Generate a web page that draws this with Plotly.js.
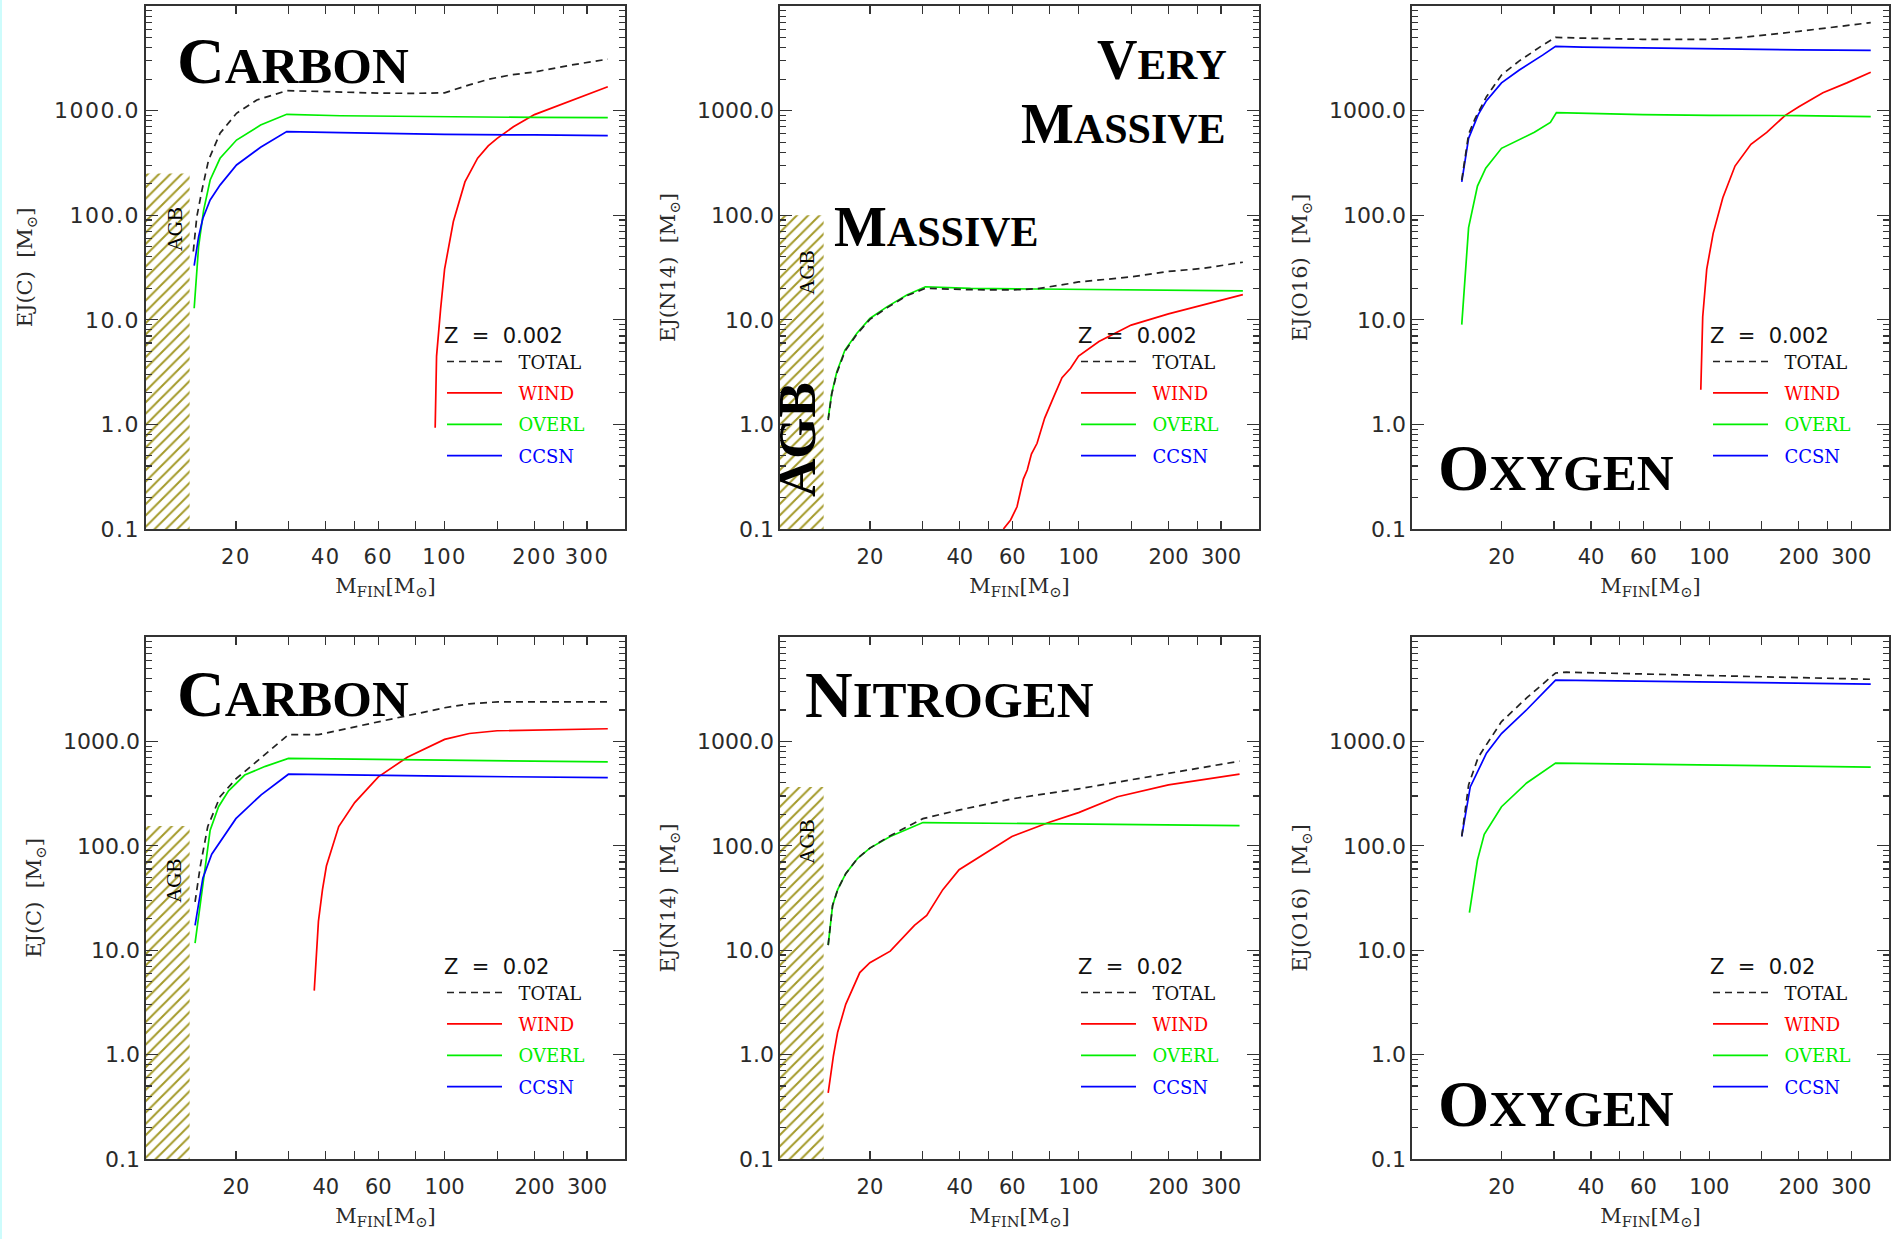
<!DOCTYPE html>
<html>
<head>
<meta charset="utf-8">
<script src="https://cdn.plot.ly/plotly-3.0.1.min.js"></script>
<style>
html,body{margin:0;padding:0;background:#ffffff;}
#chart{width:1892px;height:1239px;}
#edge{position:absolute;left:0;top:0;width:2px;height:1239px;background:#cdfcfc;}
.xtick text, .ytick text{letter-spacing:1.5px;}
</style>
</head>
<body>
<div id="chart"></div>
<div id="edge"></div>
<script>
// ---------- tick labels ----------
const xTickVals = [20, 40, 60, 100, 200, 300];
const xTickText = ['20', '40', '60', '100', '200', '300'];
const xMinorVals = [30, 50, 80, 150, 250, 400];
const yTickVals = [0.1, 1, 10, 100, 1000];
const yTickText = ['0.1', '1.0', '10.0', '100.0', '1000.0'];
const yMinorVals = [];
[0.1, 1, 10, 100, 1000].forEach(d => { for (let k = 2; k <= 9; k++) yMinorVals.push(d * k); });

// ---------- text ----------
const seriesNames = ['TOTAL', 'WIND', 'OVERL', 'CCSN'];
const yTitles = ['EJ(C)', 'EJ(N14)', 'EJ(O16)', 'EJ(C)', 'EJ(N14)', 'EJ(O16)'];
const zLabels = ['0.002', '0.002', '0.002', '0.02', '0.02', '0.02'];

// ---------- AGB region (final mass limit, top of hatched band) ----------
const agbMassMax = 14;
const agbTop = [250, 100, null, 155, 365, null];

// ---------- Panel 1: Carbon, Z = 0.002 ----------
const c002_total_m = [14.4, 14.8, 15.4, 16.2, 17.7, 20.1, 23.5, 29.6, 40, 60, 80, 100, 121, 141, 166, 200, 266, 352];
const c002_total   = [45, 97, 174, 337, 607, 942, 1262, 1550, 1520, 1468, 1463, 1480, 1760, 2000, 2190, 2340, 2730, 3100];
const c002_wind_m  = [93, 94, 97, 100, 107, 117, 129, 140, 150, 170, 200, 266, 352];
const c002_wind    = [0.93, 4.5, 12.8, 30.5, 87, 208, 351, 460, 543, 700, 916, 1244, 1690];
const c002_overl_m = [14.5, 15.0, 15.6, 16.4, 17.7, 20.1, 24.2, 29.6, 44.8, 100, 200, 352];
const c002_overl   = [12.9, 50, 112, 217, 350, 523, 728, 922, 893, 870, 860, 855];
const c002_ccsn_m  = [14.5, 15.0, 15.5, 16.4, 17.7, 20.1, 24.2, 29.6, 44.8, 100, 200, 352];
const c002_ccsn    = [33, 62, 93, 140, 194, 302, 446, 630, 617, 593, 585, 577];

// ---------- Panel 2: Nitrogen, Z = 0.002 ----------
const n002_total_m = [14.5, 14.9, 15.5, 16.5, 18.1, 20.0, 22.8, 26.6, 30.7, 43.5, 60, 72.6, 94, 100, 150, 200, 260, 355];
const n002_total   = [1.1, 1.95, 3.1, 5.0, 7.3, 10.1, 13.0, 17.0, 20.0, 19.4, 19.3, 19.8, 22.3, 23, 25.7, 29, 31, 35.5];
const n002_wind_m  = [56, 59.2, 62.2, 65.3, 67.3, 69.5, 72.6, 77, 82.6, 88, 94, 100, 117, 150, 200, 257, 355];
const n002_wind    = [0.1, 0.122, 0.163, 0.3, 0.366, 0.52, 0.66, 1.15, 1.84, 2.8, 3.44, 4.5, 6.2, 8.9, 11.4, 13.7, 17.4];
const n002_overl_m = [14.5, 14.9, 15.5, 16.5, 18.1, 20.0, 22.8, 26.6, 30.7, 43.5, 72.6, 150, 355];
const n002_overl   = [1.14, 1.98, 3.19, 5.14, 7.43, 10.3, 13.3, 17.3, 20.7, 20.0, 19.7, 19.3, 18.9];
const n002_ccsn_m  = [];
const n002_ccsn    = [];

// ---------- Panel 3: Oxygen, Z = 0.002 ----------
const o002_total_m = [14.7, 15.5, 16.3, 17.8, 20, 22.9, 27.5, 30.4, 37.5, 59.7, 100, 130, 200, 349];
const o002_total   = [217, 593, 840, 1358, 2190, 2970, 4220, 5010, 4930, 4800, 4800, 5010, 5730, 6930];
const o002_wind_m  = [93.6, 95, 98, 103, 111, 122, 138, 156, 180, 200, 241, 290, 349];
const o002_wind    = [2.14, 10.7, 30.5, 67, 147, 295, 476, 619, 901, 1090, 1480, 1840, 2330];
const o002_overl_m = [14.7, 15.5, 16.6, 17.7, 20, 25.8, 29.2, 30.6, 59.7, 100, 200, 349];
const o002_overl   = [9.0, 76, 190, 282, 436, 620, 770, 957, 916, 901, 897, 877];
const o002_ccsn_m  = [14.7, 15.5, 16.7, 17.8, 20, 22.9, 27.5, 30.4, 37.5, 59.7, 100, 200, 349];
const o002_ccsn    = [208, 543, 916, 1244, 1842, 2434, 3390, 4110, 4040, 3965, 3860, 3800, 3770];

// ---------- Panel 4: Carbon, Z = 0.02 ----------
const c02_total_m = [14.6, 15.2, 16.1, 17.7, 20, 24.3, 30, 37.8, 47, 60.5, 75, 100, 121, 151, 352];
const c02_total   = [29, 64, 153, 295, 437, 705, 1160, 1160, 1334, 1548, 1763, 2100, 2290, 2395, 2395];
const c02_wind_m  = [36.6, 37.1, 37.8, 39, 40.2, 44.2, 50, 60, 75, 100, 121, 150, 352];
const c02_wind    = [4.1, 8.6, 18.9, 38, 64, 153, 259, 457, 705, 1045, 1190, 1265, 1322];
const c02_overl_m = [14.6, 15.4, 16.4, 17.5, 18.9, 21.4, 25.1, 30, 100, 352];
const c02_overl   = [11.7, 38, 141, 237, 336, 476, 577, 687, 660, 636];
const c02_ccsn_m  = [14.6, 15.5, 16.6, 20, 24.3, 30, 100, 352];
const c02_ccsn    = [17.3, 49, 83, 182, 308, 485, 465, 449];

// ---------- Panel 5: Nitrogen, Z = 0.02 ----------
const n02_total_m = [14.5, 15.0, 15.6, 16.6, 18.2, 20, 23.4, 30.1, 40, 60, 100, 200, 346];
const n02_total   = [11.2, 26.8, 38, 54, 76, 95, 125, 182, 221, 282, 351, 497, 647];
const n02_wind_m  = [14.5, 15.1, 15.6, 16.6, 18.5, 20, 23.4, 28.2, 31, 35.1, 39.8, 48, 59.8, 79.4, 100, 135, 200, 346];
const n02_wind    = [0.43, 0.975, 1.64, 3.03, 6.1, 7.6, 9.8, 17.3, 21.5, 38, 59, 83, 123, 167, 208, 295, 383, 485];
const n02_overl_m = [14.5, 15.0, 15.6, 16.6, 18.2, 20, 23.4, 30.1, 346];
const n02_overl   = [11.2, 26.8, 38, 54, 76, 95, 123, 167, 156];
const n02_ccsn_m  = [];
const n02_ccsn    = [];

// ---------- Panel 6: Oxygen, Z = 0.02 ----------
const o02_total_m = [14.7, 15.5, 16.7, 20, 24.3, 30.4, 33.1, 349];
const o02_total   = [123, 383, 705, 1546, 2610, 4520, 4600, 3935];
const o02_wind_m  = [];
const o02_wind    = [];
const o02_overl_m = [15.6, 16.6, 17.5, 20, 24.3, 30.4, 349];
const o02_overl   = [22.9, 73, 129, 237, 400, 620, 568];
const o02_ccsn_m  = [14.7, 15.7, 17.8, 20, 24.3, 30.4, 349];
const o02_ccsn    = [123, 366, 770, 1190, 2010, 3865, 3540];

// ---------- assemble ----------
const panelSeries = [
  [[c002_total_m, c002_total], [c002_wind_m, c002_wind], [c002_overl_m, c002_overl], [c002_ccsn_m, c002_ccsn]],
  [[n002_total_m, n002_total], [n002_wind_m, n002_wind], [n002_overl_m, n002_overl], [n002_ccsn_m, n002_ccsn]],
  [[o002_total_m, o002_total], [o002_wind_m, o002_wind], [o002_overl_m, o002_overl], [o002_ccsn_m, o002_ccsn]],
  [[c02_total_m, c02_total], [c02_wind_m, c02_wind], [c02_overl_m, c02_overl], [c02_ccsn_m, c02_ccsn]],
  [[n02_total_m, n02_total], [n02_wind_m, n02_wind], [n02_overl_m, n02_overl], [n02_ccsn_m, n02_ccsn]],
  [[o02_total_m, o02_total], [o02_wind_m, o02_wind], [o02_overl_m, o02_overl], [o02_ccsn_m, o02_ccsn]]
];

const W = 1892, H = 1239;
const colPx = [[146, 625], [780, 1259], [1412, 1889]];
const rowPx = [[6, 529], [637, 1159]];
const seriesColor = ['#222222', '#ff0000', '#00ee00', '#0000ff'];
const seriesDash = ['7px,5px', 'solid', 'solid', 'solid'];
const drawOrder = [1, 2, 3, 0];   // TOTAL drawn last (on top), listed first in the key
const AX = '#333333';
const TXT = '#2a2a2a';

const traces = [];
const layout = {
  width: W, height: H,
  margin: {l: 0, r: 0, t: 0, b: 0},
  paper_bgcolor: '#ffffff', plot_bgcolor: '#ffffff',
  showlegend: true,
  annotations: []
};

for (let p = 0; p < 6; p++) {
  const r = Math.floor(p / 3), c = p % 3;
  const sfx = p ? String(p + 1) : '';
  const xa = 'x' + sfx, ya = 'y' + sfx, lg = 'legend' + sfx;

  if (agbTop[p] !== null) {
    traces.push({
      x: [10, agbMassMax, agbMassMax, 10, 10],
      y: [0.1, 0.1, agbTop[p], agbTop[p], 0.1],
      xaxis: xa, yaxis: ya, mode: 'none', fill: 'toself',
      fillcolor: 'rgba(255,255,255,0)',
      fillpattern: {shape: '/', fgcolor: '#a49a2a', bgcolor: 'rgba(255,255,255,0)', size: 8, solidity: 0.25},
      showlegend: false, hoverinfo: 'skip'
    });
  }
  drawOrder.forEach(s => {
    const sd = panelSeries[p][s];
    // a series with no values is still listed in the key (nothing drawn)
    const xs = sd[0].length ? sd[0] : [null];
    const ys = sd[1].length ? sd[1] : [null];
    traces.push({
      x: xs, y: ys, xaxis: xa, yaxis: ya, mode: 'lines',
      line: {color: seriesColor[s], width: 1.7, dash: seriesDash[s]},
      name: '&nbsp;&nbsp;<span style="color:' + (s === 0 ? '#111111' : seriesColor[s]) + '">' + seriesNames[s] + '</span>',
      legend: lg, legendgroup: 'g' + p + '_' + s, legendrank: s + 1, showlegend: true
    });
  });

  layout['xaxis' + sfx] = {
    type: 'log', range: [1, Math.log10(402)],
    domain: [colPx[c][0] / W, colPx[c][1] / W],
    anchor: ya,
    showline: true, linecolor: AX, linewidth: 1.6, mirror: 'ticks',
    ticks: 'inside', ticklen: 8, tickwidth: 1.3, tickcolor: AX,
    tickmode: 'array', tickvals: xTickVals, ticktext: xTickText,
    minor: {tickvals: xMinorVals, ticks: 'inside', ticklen: 8, tickwidth: 1.3, tickcolor: AX, showgrid: false},
    ticklabelstandoff: 8,
    tickfont: {family: 'DejaVu Sans', size: 21, color: TXT},
    showgrid: false, zeroline: false,
    title: {text: 'M<sub>FIN</sub>[M<sub>⊙</sub>]', standoff: 10,
            font: {family: 'DejaVu Serif', size: 21, color: TXT}}
  };
  layout['yaxis' + sfx] = {
    type: 'log', range: [-1, 4],
    domain: [1 - rowPx[r][1] / H, 1 - rowPx[r][0] / H],
    anchor: xa,
    showline: true, linecolor: AX, linewidth: 1.6, mirror: 'ticks',
    ticks: 'inside', ticklen: 12, tickwidth: 1.3, tickcolor: AX,
    tickmode: 'array', tickvals: yTickVals, ticktext: yTickText,
    ticklabelstandoff: 0,
    minor: {tickvals: yMinorVals, ticks: 'inside', ticklen: 6, tickwidth: 1.1, tickcolor: AX, showgrid: false},
    tickfont: {family: 'DejaVu Sans', size: 22, color: TXT},
    showgrid: false, zeroline: false,
    title: {text: yTitles[p] + '&nbsp; [M<sub>⊙</sub>]', standoff: 15,
            font: {family: 'DejaVu Serif', size: 21, color: TXT}}
  };
  layout[lg] = {
    x: (colPx[c][0] + 296) / W, y: 1 - (rowPx[r][0] + 310) / H,
    xanchor: 'left', yanchor: 'top',
    bgcolor: 'rgba(0,0,0,0)', borderwidth: 0,
    traceorder: 'grouped', tracegroupgap: 5, itemwidth: 55,
    font: {family: 'DejaVu Serif', size: 18, color: '#111111'},
    title: {text: 'Z&nbsp; =&nbsp; ' + zLabels[p], font: {family: 'DejaVu Sans', size: 21, color: '#111111'}}
  };
}

// ---------- big labels ----------
function sc(big, rest, smallSize) {
  return '<b>' + big + '<span style="font-size:' + smallSize + 'px">' + rest + '</span></b>';
}
const bigFont = {family: 'Liberation Serif', size: 66, color: '#000000'};
const midFont = {family: 'Liberation Serif', size: 56, color: '#000000'};
const labels = [
  {p: 0, text: sc('C', 'ARBON', 51), font: bigFont, x: 0.061, y: 0.895, xa: 'left'},
  {p: 1, text: sc('V', 'ERY', 43), font: midFont, x: 0.938, y: 0.897, xa: 'right'},
  {p: 1, text: sc('M', 'ASSIVE', 42), font: midFont, x: 0.935, y: 0.774, xa: 'right'},
  {p: 1, text: sc('M', 'ASSIVE', 42), font: midFont, x: 0.109, y: 0.577, xa: 'left'},
  {p: 2, text: sc('O', 'XYGEN', 51), font: bigFont, x: 0.051, y: 0.117, xa: 'left'},
  {p: 3, text: sc('C', 'ARBON', 51), font: bigFont, x: 0.061, y: 0.892, xa: 'left'},
  {p: 4, text: sc('N', 'ITROGEN', 51), font: bigFont, x: 0.047, y: 0.889, xa: 'left'},
  {p: 5, text: sc('O', 'XYGEN', 51), font: bigFont, x: 0.051, y: 0.107, xa: 'left'}
];
labels.forEach(l => {
  const sfx = l.p ? String(l.p + 1) : '';
  layout.annotations.push({
    xref: 'x' + sfx + ' domain', yref: 'y' + sfx + ' domain',
    x: l.x, y: l.y, xanchor: l.xa, yanchor: 'middle',
    text: l.text, showarrow: false, font: l.font
  });
});
const agbLabels = [
  {p: 0, x: 0.0595, y: 0.572, size: 21, bold: false},
  {p: 3, x: 0.0585, y: 0.533, size: 21, bold: false},
  {p: 1, x: 0.0574, y: 0.491, size: 21, bold: false},
  {p: 1, x: 0.0355, y: 0.170, size: 53, bold: true},
  {p: 4, x: 0.0564, y: 0.608, size: 21, bold: false}
];
agbLabels.forEach(l => {
  const sfx = l.p ? String(l.p + 1) : '';
  layout.annotations.push({
    xref: 'x' + sfx + ' domain', yref: 'y' + sfx + ' domain',
    x: l.x, y: l.y, xanchor: 'center', yanchor: 'middle', textangle: -90,
    text: l.bold ? '<b>AGB</b>' : 'AGB', showarrow: false,
    font: {family: 'Liberation Serif', size: l.size, color: '#000000'}
  });
});

Plotly.newPlot('chart', traces, layout, {staticPlot: true, displayModeBar: false});
</script>
</body>
</html>
